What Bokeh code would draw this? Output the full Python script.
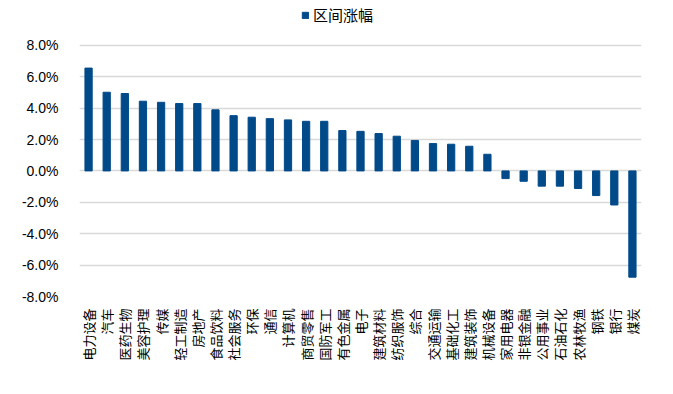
import math
from bokeh.plotting import figure
from bokeh.models import ColumnDataSource, Legend, LegendItem, PrintfTickFormatter, FixedTicker
from bokeh.embed import file_html
from bokeh.resources import INLINE

categories = ["电力设备", "汽车", "医药生物", "美容护理", "传媒", "轻工制造", "房地产", "食品饮料",
              "社会服务", "环保", "通信", "计算机", "商贸零售", "国防军工", "有色金属", "电子",
              "建筑材料", "纺织服饰", "综合", "交通运输", "基础化工", "建筑装饰", "机械设备", "家用电器",
              "非银金融", "公用事业", "石油石化", "农林牧渔", "钢铁", "银行", "煤炭"]
values = [6.55, 5.01, 4.93, 4.44, 4.37, 4.29, 4.29, 3.89, 3.52, 3.42, 3.33, 3.25, 3.16, 3.16,
          2.57, 2.52, 2.38, 2.21, 1.94, 1.74, 1.70, 1.57, 1.06, -0.49, -0.66, -0.97, -0.97,
          -1.12, -1.57, -2.17, -6.77]
y_ticks = [-8, -6, -4, -2, 0, 2, 4, 6, 8]
series_name = "区间涨幅"

BAR = "#004A8A"

src = ColumnDataSource(dict(cat=categories, val=values))

# frame extends above the 8% line to leave room for the legend inside the frame
p = figure(x_range=categories, y_range=(-8, 10.6), width=665, height=386,
           output_backend="svg", toolbar_location=None,
           min_border_left=79, min_border_right=24, min_border_top=4, min_border_bottom=90)
p.outline_line_color = None
p.background_fill_color = "white"

r = p.vbar(x="cat", top="val", width=0.4, source=src, fill_color=BAR, line_color=BAR)

p.xgrid.grid_line_color = None
p.ygrid.grid_line_color = "#D9D9D9"
p.ygrid.grid_line_width = 1.5
p.yaxis.ticker = FixedTicker(ticks=y_ticks)
p.yaxis.formatter = PrintfTickFormatter(format="%.1f%%")
p.yaxis.axis_line_color = None
p.yaxis.major_tick_line_color = None
p.yaxis.minor_tick_line_color = None
p.yaxis.major_label_standoff = 15
p.yaxis.major_label_text_font = "Liberation Sans"
p.yaxis.major_label_text_font_size = "14px"
p.yaxis.major_label_text_color = "#000000"

p.xaxis.axis_line_color = None
p.xaxis.major_tick_line_color = None
p.xaxis.major_tick_out = 0
p.xaxis.major_tick_in = 0
p.xaxis.major_label_standoff = 12
p.xaxis.major_label_orientation = math.pi / 2
p.xaxis.major_label_text_font = "Noto Sans CJK SC"
p.xaxis.major_label_text_font_size = "13px"
p.xaxis.major_label_text_color = "#000000"

legend = Legend(items=[LegendItem(label=series_name, renderers=[r])],
                location=(222, 271), orientation="horizontal",
                border_line_color=None, background_fill_alpha=0,
                padding=0, margin=0, glyph_width=8, glyph_height=8,
                label_standoff=4, label_height=16,
                label_text_font="Noto Sans CJK SC", label_text_font_size="15px",
                label_text_color="#000000")
p.add_layout(legend)

open("out.html", "w").write(file_html(p, INLINE))
